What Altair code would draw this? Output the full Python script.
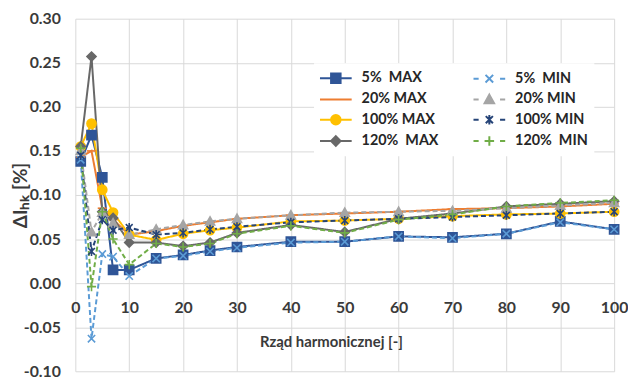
import altair as alt
import pandas as pd
import re

harmonics = [1, 3, 5, 7, 10, 15, 20, 25, 30, 40, 50, 60, 70, 80, 90, 100]

max_5 = [0.138, 0.168, 0.120, 0.015, 0.015, 0.028, 0.032, 0.037, 0.041, 0.047, 0.047, 0.053, 0.052, 0.056, 0.070, 0.061]
max_20 = [0.143, 0.150, 0.085, 0.072, 0.055, 0.059, 0.065, 0.069, 0.073, 0.077, 0.079, 0.081, 0.084, 0.085, 0.087, 0.090]
max_100 = [0.155, 0.181, 0.106, 0.080, 0.055, 0.049, 0.056, 0.060, 0.063, 0.070, 0.071, 0.073, 0.076, 0.078, 0.079, 0.081]
max_120 = [0.155, 0.257, 0.081, 0.074, 0.046, 0.046, 0.042, 0.046, 0.057, 0.066, 0.058, 0.073, 0.079, 0.087, 0.090, 0.093]
min_5 = [0.140, -0.063, 0.033, 0.030, 0.008, 0.028, 0.031, 0.036, 0.040, 0.046, 0.047, 0.053, 0.051, 0.056, 0.069, 0.061]
min_20 = [0.150, 0.058, 0.080, 0.068, 0.055, 0.061, 0.066, 0.070, 0.073, 0.077, 0.080, 0.081, 0.082, 0.085, 0.088, 0.091]
min_100 = [0.145, 0.036, 0.072, 0.060, 0.063, 0.055, 0.057, 0.061, 0.064, 0.069, 0.071, 0.073, 0.075, 0.077, 0.079, 0.081]
min_120 = [0.153, -0.004, 0.081, 0.050, 0.021, 0.045, 0.041, 0.045, 0.056, 0.065, 0.057, 0.072, 0.078, 0.087, 0.091, 0.094]

NB = "\u00a0"
series_names = [
    "5%" + NB + NB + "MAX", "20% MAX", "100% MAX", "120%" + NB + NB + "MAX",
    "5%" + NB + NB + "MIN", "20% MIN", "100% MIN", "120%" + NB + NB + "MIN",
]
series_values = [max_5, max_20, max_100, max_120, min_5, min_20, min_100, min_120]
series_colors = ["#2F5597", "#ED7D31", "#FFC000", "#686868", "#5B9BD5", "#A5A5A5", "#264478", "#70AD47"]
series_dash = [[1, 0], [1, 0], [1, 0], [1, 0], [5, 3], [5, 3], [5, 3], [5, 3]]

# marker paths (unit square -1..1)
SQUARE = "M-1,-1L1,-1L1,1L-1,1Z"
DASH = "M-1,0L1,0"
CIRCLE = "M1,0A1,1 0 1,1 -1,0A1,1 0 1,1 1,0Z"
DIAMOND = "M0,-1L1,0L0,1L-1,0Z"
XMARK = "M-0.8,-0.8L0.8,0.8M-0.8,0.8L0.8,-0.8"
TRI = "M0,-1L1,0.8L-1,0.8Z"
AST = "M-0.75,-0.75L0.75,0.75M-0.75,0.75L0.75,-0.75M0,-1L0,1"
PLUS = "M-1,0L1,0M0,-1L0,1"
marker_paths = [SQUARE, DASH, CIRCLE, DIAMOND, XMARK, TRI, AST, PLUS]


def legend_path(marker, is_min, k=0.6):
    # marker scaled into +/-k, with line arms out to +/-2 (symbol unit = 8px)
    def sc(m):
        return "{:.3f}".format(float(m.group(0)) * k)
    if marker == CIRCLE:
        m = "M{0},0A{0},{0} 0 1,1 -{0},0A{0},{0} 0 1,1 {0},0Z".format(k)
    else:
        m = re.sub(r"-?\d+(\.\d+)?", sc, marker)
    if is_min:
        arms = "M-2,0L-1.35,0M1.35,0L2,0"
    else:
        arms = "M-2,0L-{0},0M{0},0L2,0".format(k)
    return arms + m


legend_paths = [legend_path(m, "MIN" in n) for m, n in zip(marker_paths, series_names)]

rows = []
for name, vals in zip(series_names, series_values):
    for h, v in zip(harmonics, vals):
        rows.append({"h": h, "v": v, "series": name})
df = pd.DataFrame(rows)

FONT = "Lato"
TXT = "#3a3a3a"

x_axis = alt.Axis(
    values=list(range(0, 101, 5)), domain=False, ticks=False, tickSize=0,
    labelPadding=-72, labelFlush=False, labelFontSize=16,
    title="Rząd harmonicznej [-]", titleX=258, titleY=-30, titleBaseline="middle",
    titleFontSize=15,
)
y_axis = alt.Axis(
    values=[-0.1, -0.05, 0.0, 0.05, 0.1, 0.15, 0.2, 0.25, 0.3],
    domain=False, ticks=False, tickSize=0, labelPadding=15, labelFontSize=16,
    labelExpr="replace(format(datum.value, '.2f'), '\u2212', '-')",
    title="ΔI\u2095\u2096 [%]", titleX=-55, titleY=178, titleBaseline="middle",
    titleFontSize=19, titleAngle=-90,
)
xs = alt.Scale(domain=[0, 100], nice=False, zero=False)
ys = alt.Scale(domain=[-0.1, 0.3], nice=False, zero=False)

color_scale = alt.Scale(domain=series_names, range=series_colors)

base = alt.Chart(df)

lines = base.mark_line(strokeWidth=2).encode(
    x=alt.X("h:Q", scale=xs, axis=x_axis),
    y=alt.Y("v:Q", scale=ys, axis=y_axis),
    color=alt.Color("series:N", scale=color_scale, legend=None),
    strokeDash=alt.StrokeDash("series:N", scale=alt.Scale(domain=series_names, range=series_dash), legend=None),
    detail="series:N",
)

points = base.mark_point(filled=False, strokeWidth=1.6, size=85, opacity=1).encode(
    x=alt.X("h:Q", scale=xs),
    y=alt.Y("v:Q", scale=ys),
    color=alt.Color("series:N", scale=color_scale, legend=None),
    fill=alt.Fill("series:N", scale=color_scale, legend=None),
    shape=alt.Shape("series:N", scale=alt.Scale(domain=series_names, range=marker_paths), legend=None),
)

leg = alt.Legend(
    title=None, orient="none", legendX=241, legendY=45, columns=2,
    fillColor="white", padding=6, columnPadding=31, rowPadding=3.5,
    labelFont=FONT, labelFontWeight="bold", labelFontSize=14.5, labelColor="#262626",
    symbolSize=256, symbolStrokeWidth=2, symbolOffset=7, labelOffset=17, labelLimit=200,
)

legend_layer = base.transform_filter("false").mark_point(filled=False, strokeWidth=2, size=256, opacity=1).encode(
    color=alt.Color("series:N", scale=color_scale, legend=leg),
    fill=alt.Fill("series:N", scale=color_scale, legend=leg),
    shape=alt.Shape("series:N", scale=alt.Scale(domain=series_names, range=legend_paths), legend=leg),
)

chart = (
    alt.layer(lines, points, legend_layer)
    .resolve_scale(color="independent", fill="independent", shape="independent", strokeDash="independent")
    .properties(
        width=544, height=356,
        padding={"left": 68, "top": 9, "right": 14, "bottom": 6},
        autosize=alt.AutoSizeParams(type="none"),
    )
    .configure_view(stroke=None)
    .configure_axis(
        gridColor="#d9d9d9", gridWidth=1,
        labelFont=FONT, labelFontWeight="bold", labelColor=TXT,
        titleFont=FONT, titleFontWeight="bold", titleColor=TXT,
    )
)

chart.save("out.html", embed_options={"renderer": "svg", "actions": False})
